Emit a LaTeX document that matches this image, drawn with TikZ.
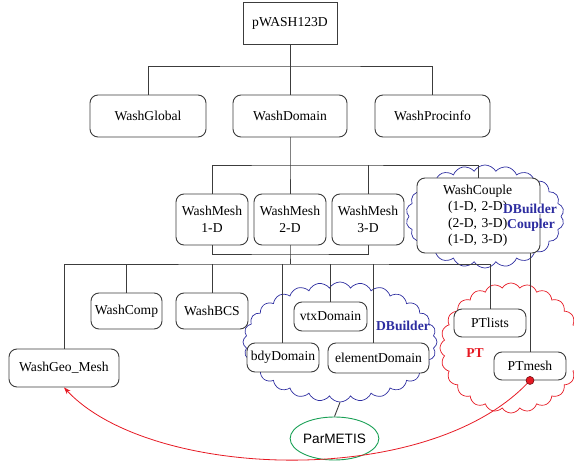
\documentclass[tikz,border=0pt]{standalone}
\usepackage{fontspec}
\setmainfont{Liberation Serif}
\newfontfamily\sansf{Liberation Sans}
\usetikzlibrary{shapes.symbols,shapes.geometric,arrows.meta}
\definecolor{cblue}{RGB}{45,45,160}
\definecolor{cred}{RGB}{230,25,35}
\definecolor{cgreen}{RGB}{25,160,85}
\definecolor{lgray}{RGB}{60,60,60}
\tikzset{
  box/.style={draw=lgray, line width=0.9pt, rounded corners=8pt, fill=white, inner sep=0pt, align=center},
  topbox/.style={draw=lgray, line width=0.9pt, fill=white, inner sep=0pt},
  conn/.style={draw=lgray, line width=0.9pt},
  cloudshape/.style={cloud, draw, line width=0.7pt, cloud ignores aspect, inner sep=0pt},
  cloudlabel/.style={font=\fontsize{13.6}{16.5}\selectfont\bfseries, inner sep=0pt},
}
\begin{document}
\begin{tikzpicture}[x=1pt,y=-1pt,font=\fontsize{13.6}{16.5}\selectfont]
\useasboundingbox (0,0) rectangle (574,470);
% clouds
\node[cloudshape, draw=cblue, cloud puffs=22, cloud puff arc=120, minimum width=158pt, minimum height=103pt] (cc) at (485,216.5) {};
\node[cloudshape, draw=cblue, cloud puffs=28, cloud puff arc=120, minimum width=194pt, minimum height=120pt] (dc) at (340,342) {};
\node[cloudshape, draw=cred, cloud puffs=24, cloud puff arc=120, minimum width=142pt, minimum height=130pt] (pc) at (511,348) {};
% nodes
\node[topbox, minimum width=94pt, minimum height=42pt] (p) at (290,23) {pWASH123D};
\node[box, minimum width=116pt, minimum height=42pt] (g) at (148,116) {WashGlobal};
\node[box, minimum width=114pt, minimum height=42pt] (d) at (290,116) {WashDomain};
\node[box, minimum width=115pt, minimum height=42pt] (pi) at (432.5,116) {WashProcinfo};
\node[box, minimum width=72pt, minimum height=51pt] (m1) at (212,219.5) {WashMesh\\1-D};
\node[box, minimum width=72pt, minimum height=51pt] (m2) at (290,219.5) {WashMesh\\2-D};
\node[box, minimum width=72pt, minimum height=51pt] (m3) at (368,219.5) {WashMesh\\3-D};
\node[box, align=left, text width=71pt, inner xsep=26pt, minimum height=75pt] (wc) at (478.5,215.5)
  {WashCouple\\\hspace*{5pt}(1-D, 2-D)\\\hspace*{5pt}(2-D, 3-D)\\\hspace*{5pt}(1-D, 3-D)};
\node[box, minimum width=110pt, minimum height=38pt] (gm) at (64,368) {WashGeo\_Mesh};
\node[box, minimum width=71pt, minimum height=36pt] (comp) at (126.5,311) {WashComp};
\node[box, minimum width=72pt, minimum height=36pt] (bcs) at (212,311) {WashBCS};
\node[box, minimum width=73pt, minimum height=29pt] (vtx) at (330.5,316.5) {vtxDomain};
\node[box, minimum width=72pt, minimum height=29pt] (bdy) at (283,357.5) {bdyDomain};
\node[box, minimum width=101pt, minimum height=30pt] (ed) at (378.5,358) {elementDomain};
\node[box, minimum width=72pt, minimum height=28pt] (ptl) at (490,323) {PTlists};
\node[box, minimum width=72pt, minimum height=28pt] (ptm) at (530,366) {PTmesh};
\node[ellipse, draw=cgreen, line width=0.9pt, minimum width=85pt, minimum height=43pt, inner sep=0pt, font=\sansf\fontsize{13.6}{16}\selectfont] (par) at (334.5,438.5) {ParMETIS};
% cloud labels
\node[cloudlabel, text=cblue, fill=white, inner xsep=0.5pt] (lb1) at (530,209) {DBuilder};
\node[cloudlabel, text=cblue] (lb2) at (531,225.5) {Coupler};
\node[cloudlabel, text=cblue] (lb3) at (403,326) {DBuilder};
\node[cloudlabel, text=cred] (lb4) at (475,353) {PT};
% junctions
\coordinate (j1) at (290,66);
\coordinate (j2) at (290,165);
\coordinate (j3) at (290,254);
\coordinate (j4) at (290,264);
% connectors
\draw[conn] (p.south) -- (j1);
\draw[conn] (g.north) |- (j1) -| (pi.north);
\draw[conn] (j1) -- (d.north);
\draw[conn] (d.south) -- (j2) -- (m2.north);
\draw[conn] (m1.north) |- (j2) -| (wc.north);
\draw[conn] (m3.north) -- (m3.north |- j2);
\draw[conn] (m1.south) |- (j3) -| (m3.south);
\draw[conn] (m2.south) -- (j3) -- (j4);
\draw[conn] (gm.north) |- (j4) -| (ptl.north);
\draw[conn] (comp.north) -- (comp.north |- j4);
\draw[conn] (bcs.north) -- (bcs.north |- j4);
\draw[conn] ([xshift=-1pt]bdy.north) -- ([xshift=-1pt]bdy.north |- j4);
\draw[conn] (vtx.north) -- (vtx.north |- j4);
\draw[conn] ([xshift=-5.5pt]ed.north) -- ([xshift=-5.5pt]ed.north |- j4);
\draw[conn] (wc.south -| ptm.north) -- (ptm.north);
\draw[conn] (dc.south) -- (par.north);
% red reference curve
\draw[cred, line width=0.8pt, -{Stealth[length=7pt,width=5pt]}] (ptm.south) .. controls (430,490) and (150,480) .. (gm.south);
\filldraw[fill=cred, draw=cred!50!black, line width=0.6pt] (ptm.south) circle (4pt);
\end{tikzpicture}
\end{document}
